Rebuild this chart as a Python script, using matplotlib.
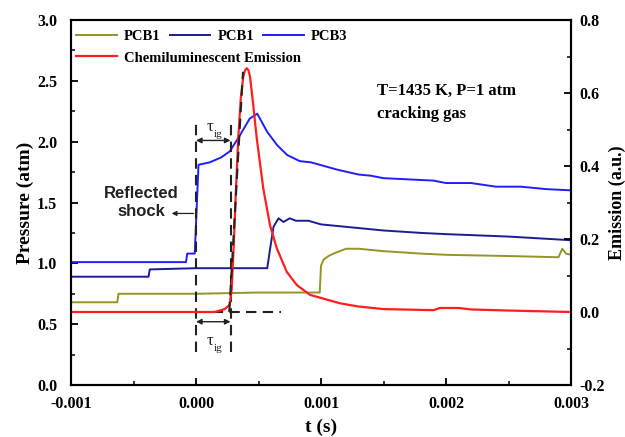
import matplotlib
matplotlib.use("Agg")
import matplotlib.pyplot as plt
from matplotlib.ticker import MultipleLocator, FormatStrFormatter

plt.rcParams['font.family'] = ['Liberation Serif', 'DejaVu Serif']
plt.rcParams['font.weight'] = 'bold'
plt.rcParams['axes.unicode_minus'] = False

# ---- data ----
t_olive = [-0.001, -0.00063, -0.00062, 0.0, 0.0005, 0.00099, 0.001, 0.00102, 0.00106, 0.0011,
           0.0012, 0.0013, 0.0015, 0.0018, 0.002, 0.0025, 0.0029, 0.00293, 0.00296, 0.003]
p_olive = [0.68, 0.68, 0.75, 0.75, 0.76, 0.76, 0.98, 1.03, 1.06, 1.08,
           1.12, 1.12, 1.10, 1.08, 1.07, 1.06, 1.05, 1.12, 1.08, 1.07]

t_navy = [-0.001, -0.00038, -0.00037, 0.0, 0.0003, 0.00057, 0.00059, 0.00062, 0.00066, 0.0007,
          0.00075, 0.0008, 0.0009, 0.001, 0.0012, 0.0015, 0.0018, 0.002, 0.0025, 0.003]
p_navy = [0.89, 0.89, 0.95, 0.96, 0.96, 0.96, 1.10, 1.30, 1.37, 1.34,
          1.37, 1.35, 1.35, 1.32, 1.30, 1.27, 1.25, 1.24, 1.22, 1.19]

t_blue = [-0.001, -0.00008, -0.00007, -0.00001, 0.00002, 0.00011, 0.0002, 0.00027, 0.00035, 0.00043,
          0.00049, 0.00057, 0.00065, 0.00073, 0.00083, 0.00092, 0.00099, 0.00113, 0.0013, 0.0014,
          0.0015, 0.0017, 0.0019, 0.002, 0.0022, 0.0024, 0.0026, 0.0028, 0.003]
p_blue = [1.01, 1.01, 1.08, 1.08, 1.81, 1.83, 1.87, 1.92, 2.05, 2.19,
          2.23, 2.08, 1.97, 1.89, 1.84, 1.83, 1.81, 1.77, 1.73, 1.72,
          1.70, 1.69, 1.68, 1.66, 1.66, 1.63, 1.63, 1.61, 1.60]

t_red = [-0.001, 0.00015, 0.00023, 0.00027, 0.000286, 0.000304, 0.00032, 0.000338, 0.000358, 0.000378,
         0.000392, 0.000406, 0.00042, 0.000432, 0.000458, 0.000486, 0.000538, 0.000592, 0.000646, 0.000726,
         0.000806, 0.000912, 0.00115, 0.0013, 0.0015, 0.0019, 0.00195, 0.0021, 0.0022, 0.0025, 0.003]
e_red = [0.0, 0.0, 0.008, 0.02, 0.065, 0.20, 0.339, 0.476, 0.585, 0.645,
         0.662, 0.668, 0.662, 0.645, 0.567, 0.476, 0.339, 0.238, 0.175, 0.110,
         0.074, 0.047, 0.024, 0.015, 0.008, 0.005, 0.011, 0.011, 0.007, 0.004, 0.0]

labels = ['PCB1', 'PCB1', 'PCB3', 'Chemiluminescent Emission']
c_olive, c_navy, c_blue, c_red = '#949428', '#1c1c96', '#1e1eff', '#ff1e1e'

fig = plt.figure(figsize=(6.25, 4.37), dpi=100)
ax = fig.add_axes([71/625, 1-385/437, 500/625, 365/437])
ax2 = ax.twinx()

lw = 1.4
l1, = ax.plot(t_olive, p_olive, color=c_olive, lw=lw)
l2, = ax.plot(t_navy, p_navy, color=c_navy, lw=lw)
l3, = ax.plot(t_blue, p_blue, color=c_blue, lw=lw)
l4, = ax2.plot(t_red, e_red, color=c_red, lw=1.6)

dash = dict(color='#222222', lw=1.5, ls=(0, (5, 3)))
ax.plot([0.0, 0.0], [0.27, 2.19], **dash)
ax.plot([0.000276, 0.000276], [0.27, 2.19], **dash)
ax.plot([0.0, 0.00068], [0.6, 0.6], **dash)
ax2.plot([0.000266, 0.000376], [0.0, 0.658], **dash)

arrow_kw = dict(arrowstyle='<|-|>', color='#222222', lw=1.0, mutation_scale=8, shrinkA=0, shrinkB=0)
ax.annotate('', xy=(0.0, 2.01), xytext=(0.000276, 2.01), arrowprops=arrow_kw)
ax.annotate('', xy=(0.0, 0.52), xytext=(0.000276, 0.52), arrowprops=arrow_kw)
for (tx, ty) in [(0.000112, 2.12), (0.000112, 0.36)]:
    ax.text(tx, ty, 'τ', fontsize=12, ha='center', va='center', fontweight='normal', color='#222222')
    ax.text(tx + 0.000065, ty - 0.06, 'ig', fontsize=8, ha='center', va='center', fontweight='normal', color='#222222')

ax.text(-0.00044, 1.50, 'Reflected\nshock', fontsize=12, fontweight='bold', family='Liberation Sans',
        ha='center', va='center', multialignment='center', linespacing=1.3, color='#222222')
ax.annotate('', xy=(-0.000195, 1.41), xytext=(-0.00002, 1.41),
            arrowprops=dict(arrowstyle='-|>', color='#222222', lw=0.9, mutation_scale=7,
                            shrinkA=0, shrinkB=0))

ax.text(0.001448, 2.42, 'T=1435 K, P=1 atm', fontsize=12, fontweight='bold', ha='left', va='center')
ax.text(0.001448, 2.23, 'cracking gas', fontsize=12, fontweight='bold', ha='left', va='center')

ax.set_xlim(-0.001, 0.003)
ax.set_ylim(0.0, 3.0)
ax2.set_ylim(-0.2, 0.8)
ax.xaxis.set_major_locator(MultipleLocator(0.001))
ax.xaxis.set_minor_locator(MultipleLocator(0.0005))
ax.yaxis.set_major_locator(MultipleLocator(0.5))
ax.yaxis.set_minor_locator(MultipleLocator(0.25))
ax2.yaxis.set_major_locator(MultipleLocator(0.2))
ax2.yaxis.set_minor_locator(MultipleLocator(0.1))
ax.xaxis.set_major_formatter(FormatStrFormatter('%.3f'))
ax.yaxis.set_major_formatter(FormatStrFormatter('%.1f'))
ax2.yaxis.set_major_formatter(FormatStrFormatter('%.1f'))

for a in (ax, ax2):
    a.tick_params(which='major', direction='in', length=5, width=1.3, labelsize=11.5)
    a.tick_params(which='minor', direction='in', length=3, width=1.1)
    for s in a.spines.values():
        s.set_linewidth(1.5)
ax.tick_params(axis='x', pad=8)
ax.tick_params(axis='y', pad=10)
ax2.tick_params(axis='y', pad=6)
for lab in ax.get_xticklabels() + ax.get_yticklabels() + ax2.get_yticklabels():
    lab.set_fontweight('bold')

ax.set_xlabel('t (s)', fontsize=14, fontweight='bold', labelpad=5)
ax.set_ylabel('Pressure (atm)', fontsize=14, fontweight='bold', labelpad=2)
ax2.set_ylabel('Emission (a.u.)', fontsize=13, fontweight='bold', labelpad=3)

leg1 = ax2.legend([l1, l2, l3], labels[:3], ncol=3, loc='center left',
                  bbox_to_anchor=(0.01, 0.955), frameon=False,
                  handlelength=2.8, handletextpad=0.5, columnspacing=0.6,
                  borderpad=0, borderaxespad=0, prop={'weight': 'bold', 'size': 10.5})
ax2.add_artist(leg1)
ax2.legend([l4], labels[3:], loc='center left', bbox_to_anchor=(0.01, 0.896), frameon=False,
           handlelength=2.8, handletextpad=0.5, borderpad=0, borderaxespad=0,
           prop={'weight': 'bold', 'size': 10.5})

fig.savefig('out.png', dpi=100)
